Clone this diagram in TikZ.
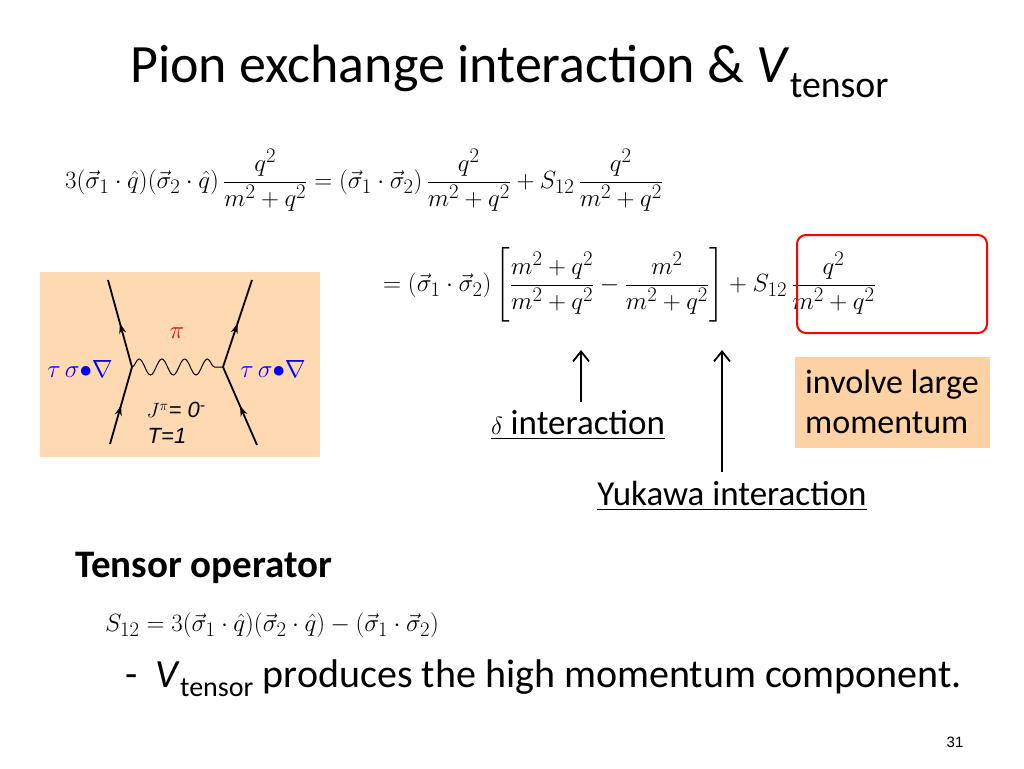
\documentclass[tikz,border=0pt]{standalone}
\usepackage{amsmath}
\usepackage{fontspec}
\setmainfont{Carlito}
\newfontfamily\arialf{Liberation Sans}
\usetikzlibrary{decorations.pathmorphing,decorations.markings,arrows.meta}
\begin{document}
\begin{tikzpicture}[x=1pt,y=-1pt,
  eq/.style={anchor=west,inner sep=0pt,font=\fontsize{32}{38}\selectfont},
  fline/.style={line width=1.8pt,postaction={decorate},decoration={markings,mark=at position 0.5 with {\arrow{Stealth[length=10pt,width=7pt]}}}},
  blu/.style={text=blue,font=\fontsize{28}{30}\selectfont}]
\useasboundingbox (0,0) rectangle (1024,768);
\node[anchor=base west,inner sep=0pt,font=\fontsize{54}{60}\selectfont] (title) at (130,82) {Pion exchange interaction \& \textit{V}\textsubscript{tensor}};
% equations
\node[eq] (e1) at (65,180) {$3(\vec\sigma_1\cdot\hat q)(\vec\sigma_2\cdot\hat q)\,\dfrac{q^2}{m^2+q^2}=(\vec\sigma_1\cdot\vec\sigma_2)\,\dfrac{q^2}{m^2+q^2}+S_{12}\,\dfrac{q^2}{m^2+q^2}$};
\node[eq,font=\fontsize{31}{37}\selectfont] (e2) at (383,285) {$=(\vec\sigma_1\cdot\vec\sigma_2)\left[\dfrac{m^2+q^2}{m^2+q^2}-\dfrac{m^2}{m^2+q^2}\right]+S_{12}\,\dfrac{q^2}{m^2+q^2}$};
\node[draw=red,line width=2pt,rounded corners=9pt,minimum width=190pt,minimum height=98pt] (rb) at (892,284) {};
% diagram
\node[fill=orange!30!white,minimum width=280pt,minimum height=185pt,inner sep=0pt] (fbox) at (180,364.5) {};
\coordinate (vl) at (132,367); \coordinate (vr) at (223,367);
\coordinate (lt) at (108,280); \coordinate (lb) at (110,444);
\coordinate (rt) at (252,280); \coordinate (rb2) at (257,445);
\draw[fline] (lb) -- (vl); \draw[fline] (vl) -- (lt);
\draw[fline] (rb2) -- (vr); \draw[fline] (vr) -- (rt);
\draw[line width=1pt,decorate,decoration={snake,amplitude=8pt,segment length=22.75pt}] (vl) -- (vr);
\node[text=red,font=\fontsize{32}{34}\selectfont] (pi) at (177,333) {$\pi$};
\node[blu] (tl) at (80,369) {$\tau\,\sigma{\bullet}\nabla$};
\node[blu] (tr) at (273,369) {$\tau\,\sigma{\bullet}\nabla$};
\node[font=\arialf\itshape\fontsize{22}{24}\selectfont] (jp) at (176,410) {$J^{\pi}$= 0$^{\text{-}}$};
\node[font=\arialf\itshape\fontsize{22}{24}\selectfont] (tt) at (167,436) {T=1};
% arrows and labels
\node[font=\fontsize{35}{40}\selectfont] (dl) at (578,425) {\underline{$\delta$ interaction}};
\node[font=\fontsize{35}{40}\selectfont] (yl) at (732,496) {\underline{Yukawa interaction}};
\coordinate (da) at (581,350); \coordinate (ya) at (722,350);
\draw[line width=1.8pt,-{Straight Barb[length=10pt,width=16pt]}] (581,402) -- (da);
\draw[line width=1.8pt,-{Straight Barb[length=10pt,width=16pt]}] (722,472) -- (ya);
\node[fill=orange!35!white,minimum width=195pt,minimum height=91pt,align=left,font=\fontsize{34}{40}\selectfont] (ib) at (892,402) {involve large\\momentum};
% tensor operator
\node[anchor=base west,inner sep=0pt,font=\bfseries\fontsize{39}{44}\selectfont] (to) at (75,577) {Tensor operator};
\node[eq] (e3) at (105,625) {$S_{12}=3(\vec\sigma_1\cdot\hat q)(\vec\sigma_2\cdot\hat q)-(\vec\sigma_1\cdot\vec\sigma_2)$};
\node[anchor=base west,inner sep=0pt,font=\fontsize{40}{46}\selectfont] (bul) at (125,687) {-\ \ \textit{V}\textsubscript{tensor} produces the high momentum component.};
\node[font=\arialf\fontsize{15}{18}\selectfont] (pg) at (955,742) {31};
\end{tikzpicture}
\end{document}
